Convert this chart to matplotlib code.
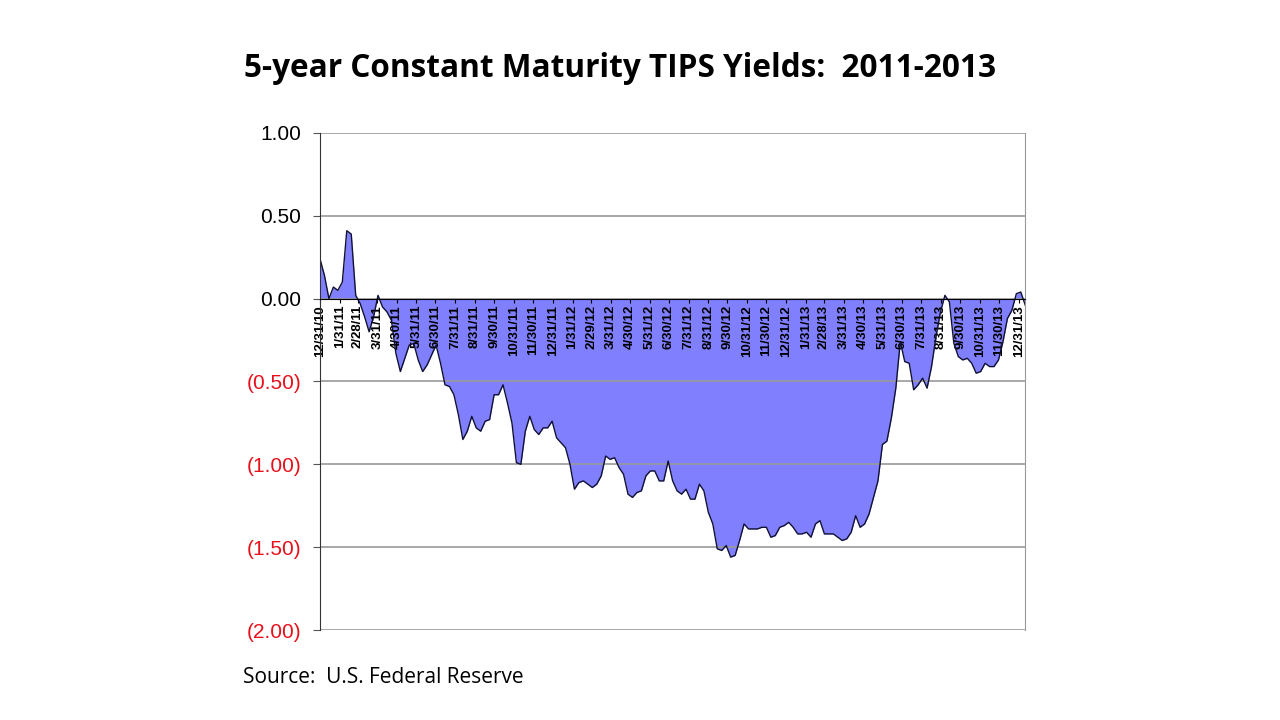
import numpy as np
import pandas as pd
import matplotlib
matplotlib.use("Agg")
import matplotlib.pyplot as plt

# weekly 5-year TIPS yields (12/31/10 .. 1/10/14)
yields_2011 = [0.24, 0.14, 0.00, 0.07, 0.05, 0.10, 0.41, 0.39, 0.02, -0.03,
               -0.11, -0.20, -0.11, 0.02, -0.05, -0.08, -0.13, -0.33, -0.44, -0.36,
               -0.28, -0.27, -0.37, -0.44, -0.40, -0.34, -0.28, -0.39, -0.52, -0.53,
               -0.58, -0.70, -0.85, -0.80, -0.71, -0.78, -0.80, -0.74, -0.73, -0.58,
               -0.58, -0.52, -0.63, -0.75, -0.99, -1.00, -0.80, -0.71, -0.79, -0.82,
               -0.78, -0.78]
yields_2012 = [-0.74, -0.84, -0.87, -0.90, -1.00, -1.15, -1.11, -1.10, -1.12, -1.14,
               -1.12, -1.07, -0.95, -0.97, -0.96, -1.02, -1.06, -1.18, -1.20, -1.17,
               -1.16, -1.07, -1.04, -1.04, -1.10, -1.10, -0.98, -1.10, -1.16, -1.18,
               -1.15, -1.21, -1.21, -1.12, -1.16, -1.29, -1.36, -1.51, -1.52, -1.49,
               -1.56, -1.55, -1.46, -1.36, -1.39, -1.39, -1.39, -1.38, -1.38, -1.44,
               -1.43, -1.38]
yields_2013 = [-1.37, -1.35, -1.38, -1.42, -1.42, -1.41, -1.44, -1.36, -1.34, -1.42,
               -1.42, -1.42, -1.44, -1.46, -1.45, -1.41, -1.31, -1.38, -1.36, -1.30,
               -1.20, -1.10, -0.88, -0.86, -0.72, -0.54, -0.26, -0.38, -0.39, -0.55,
               -0.52, -0.48, -0.54, -0.41, -0.23, -0.08, 0.02, -0.02, -0.27, -0.35,
               -0.37, -0.36, -0.39, -0.45, -0.44, -0.39, -0.41, -0.41, -0.37, -0.26,
               -0.12, -0.07, 0.03, 0.04, -0.04]
yields = yields_2011 + yields_2012 + yields_2013

dates = pd.date_range("2010-12-31", periods=len(yields), freq="W-FRI")
month_ends = pd.date_range("2010-12-31", "2013-12-31", freq="ME")
month_labels = [f"{d.month}/{d.day}/{d.strftime('%y')}" for d in month_ends]

y_ticks = [1.0, 0.5, 0.0, -0.5, -1.0, -1.5, -2.0]
y_labels = ["1.00", "0.50", "0.00", "(0.50)", "(1.00)", "(1.50)", "(2.00)"]

fig = plt.figure(figsize=(12.8, 7.2), dpi=100)
ax = fig.add_axes([0.25, 0.125, 0.551, 0.6903])

# spine positions first -- set_position resets the ticks
ax.spines["bottom"].set_position(("data", 0))
ax.spines["bottom"].set_color("black")
ax.spines["left"].set_color("#333333")
ax.spines["right"].set_color("#999999")
ax.spines["top"].set_visible(False)

ax.fill_between(dates, yields, 0, color="#8080ff", lw=0)
ax.plot(dates, yields, color="#111133", lw=1.0)

ax.set_xlim(dates[0], dates[-1])
ax.set_ylim(-2, 1)

ax.set_yticks(y_ticks)
ax.set_yticklabels(y_labels, fontsize=15, family="Liberation Sans")
for lab, v in zip(ax.get_yticklabels(), y_ticks):
    lab.set_color("#e8101a" if v < 0 else "black")
ax.tick_params(axis="y", length=5, color="#555555", pad=8.5)
ax.grid(axis="y", color="#999999", lw=1.2)

ax.set_xticks(month_ends)
ax.set_xticklabels(month_labels, rotation=90, fontsize=9.5, fontweight="bold",
                   family="Liberation Sans")
ax.tick_params(axis="x", length=3, direction="out", pad=1.5)

fig.text(0.191, 0.905, "5-year Constant Maturity TIPS Yields:  2011-2013",
         fontsize=22.7, fontweight="bold", family="Open Sans", va="center")
fig.text(0.19, 0.059, "Source:  U.S. Federal Reserve", fontsize=15,
         family="Open Sans", va="center")

fig.savefig("out.png", dpi=100)
